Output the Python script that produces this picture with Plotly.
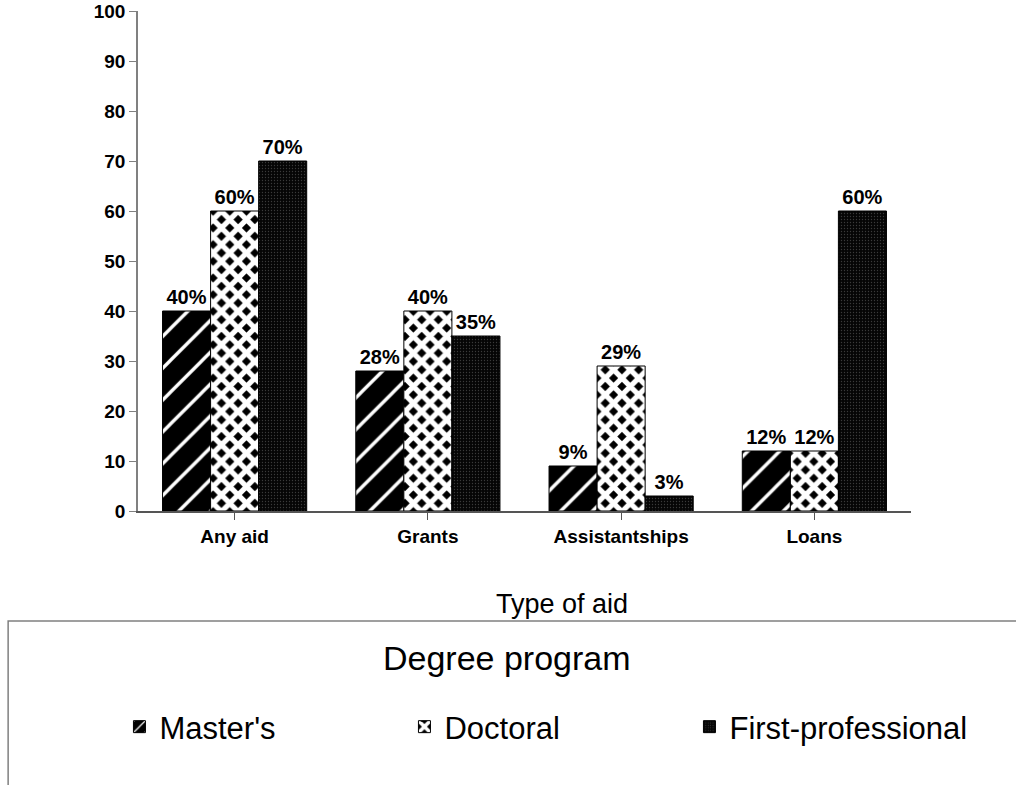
import plotly.graph_objects as go

categories = ["Any aid", "Grants", "Assistantships", "Loans"]
masters = [40, 28, 9, 12]
doctoral = [60, 40, 29, 12]
first_prof = [70, 35, 3, 60]
series_names = ["Master's", "Doctoral", "First-professional"]
y_ticks = [0, 10, 20, 30, 40, 50, 60, 70, 80, 90, 100]

FONT = "Liberation Sans, Arial, sans-serif"

patterns = [
    dict(shape="/", bgcolor="black", fgcolor="white", size=22.5, solidity=0.15, fillmode="replace"),
    dict(shape="x", bgcolor="black", fgcolor="white", size=11.8, solidity=0.7, fillmode="replace"),
    dict(shape=".", bgcolor="#050505", fgcolor="#3a3a3a", size=3, solidity=0.15, fillmode="replace"),
]

fig = go.Figure()
for name, vals, pat in zip(series_names, [masters, doctoral, first_prof], patterns):
    fig.add_trace(go.Bar(
        name=name, x=categories, y=vals,
        marker=dict(color="black", pattern=pat, line=dict(color="black", width=1)),
        texttemplate="%{y}%", textposition="outside",
        textfont=dict(family=FONT, size=20, color="black", weight="bold"),
        cliponaxis=False,
    ))

fig.update_layout(
    width=1016, height=785,
    margin=dict(l=138, r=105, t=11, b=274, autoexpand=False),
    paper_bgcolor="white", plot_bgcolor="white",
    barmode="group", bargap=0.254, bargroupgap=0,
    font=dict(family=FONT, color="black"),
    showlegend=True,
    legend=dict(
        orientation="h", x=-0.024, xanchor="left", y=-0.432, yanchor="middle",
        font=dict(family=FONT, size=31, color="black"),
        entrywidth=240, entrywidthmode="pixels",
        bgcolor="rgba(0,0,0,0)", borderwidth=0,
    ),
    xaxis=dict(
        showline=True, linecolor="#555555", linewidth=1.5,
        ticks="outside", ticklen=7, tickcolor="#555555",
        tickfont=dict(family=FONT, size=19, color="black", weight="bold"),
        showgrid=False, zeroline=False, automargin=False,
    ),
    yaxis=dict(
        range=[0, 100], tickvals=y_ticks, ticktext=[str(v) for v in y_ticks],
        showline=True, linecolor="#808080", linewidth=1.5,
        ticks="outside", ticklen=7, tickcolor="#808080",
        tickfont=dict(family=FONT, size=19, color="black", weight="bold"),
        ticklabeloverflow="allow",
        showgrid=False, zeroline=False, automargin=False,
    ),
    annotations=[
        dict(
            text="Type of aid", xref="paper", yref="paper", x=0.5485, y=-0.186,
            xanchor="center", yanchor="middle", showarrow=False,
            font=dict(family=FONT, size=27, color="black"),
        ),
        dict(
            text="Degree program", xref="paper", yref="paper", x=0.477, y=-0.294,
            xanchor="center", yanchor="middle", showarrow=False,
            font=dict(family=FONT, size=34, color="black"),
        ),
    ],
    shapes=[dict(
        type="rect", xref="paper", yref="paper",
        x0=-0.168, x1=1.2, y0=-0.22, y1=-0.7,
        line=dict(color="#808080", width=1.5), fillcolor="rgba(0,0,0,0)",
        layer="below",
    )],
)

fig.write_html(
    "out.html",
    config={"displayModeBar": False},
    post_script="document.body.style.margin='0';document.body.style.overflow='hidden';",
)
